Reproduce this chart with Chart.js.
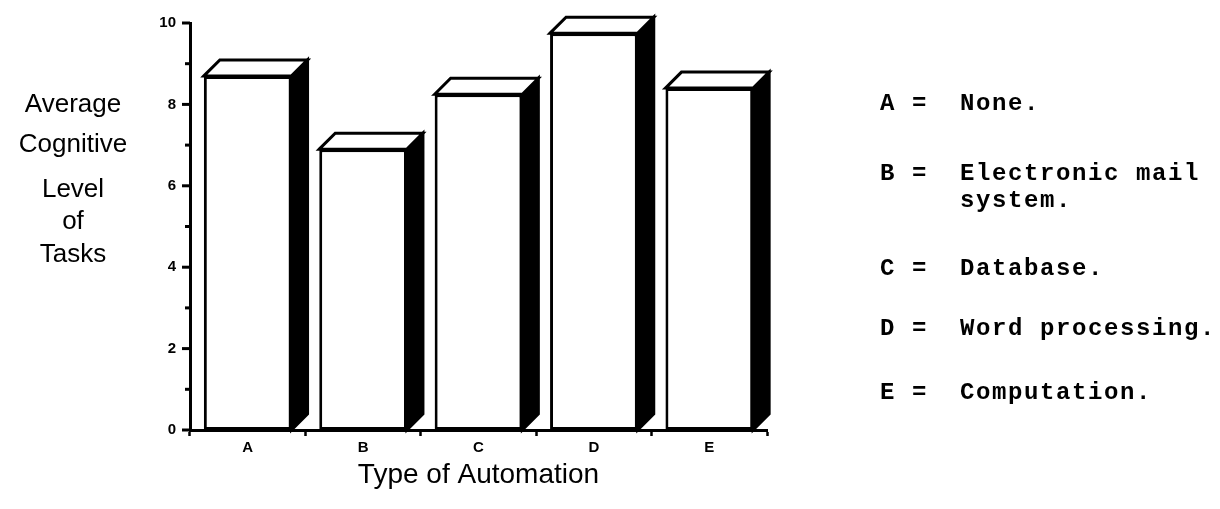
<!DOCTYPE html>
<html>
<head>
<meta charset="utf-8">
<title>Average Cognitive Level of Tasks by Type of Automation</title>
<script src="https://cdn.jsdelivr.net/npm/chart.js@4.4.1/dist/chart.umd.min.js"></script>
<style>
  html, body { margin: 0; padding: 0; background: #fff; }
  #wrap { position: relative; width: 1220px; height: 509px; overflow: hidden; }
  #chart { position: absolute; left: 0; top: 0; }
  .ytitle {
    position: absolute; left: 0; width: 146px; text-align: center;
    font: 26px "Liberation Sans", Arial, sans-serif; line-height: 26px; color: #000;
  }
  .key {
    position: absolute; left: 880px; white-space: pre;
    font: bold 24px "Liberation Mono", monospace; letter-spacing: 1.6px;
    line-height: 24px; color: #000;
  }
</style>
</head>
<body>
<div id="wrap">
  <canvas id="chart" width="1220" height="509"></canvas>
</div>
<script>
// ----- Data -----
const categories = ['A', 'B', 'C', 'D', 'E'];
const levels = [8.7, 6.9, 8.25, 9.75, 8.4];
const yLabels = [0, 2, 4, 6, 8, 10];
const yTitleLines = ['Average', 'Cognitive', 'Level', 'of', 'Tasks'];
const keyLines = ['A =  None.', 'B =  Electronic mail', '     system.', 'C =  Database.', 'D =  Word processing.', 'E =  Computation.'];

// ----- Text beside the plot (y title + key) -----
const wrap = document.getElementById('wrap');
const yTitleTops = [90, 130, 175, 207, 240];
yTitleLines.forEach(function (t, i) {
  const d = document.createElement('div');
  d.className = 'ytitle';
  d.style.top = yTitleTops[i] + 'px';
  d.textContent = t;
  wrap.appendChild(d);
});
const keyTops = [92, 162, 189, 257, 317, 381];
keyLines.forEach(function (t, i) {
  const d = document.createElement('div');
  d.className = 'key';
  d.style.top = keyTops[i] + 'px';
  d.textContent = t;
  wrap.appendChild(d);
});

// ----- 3D bar look: top face and black side -----
const DEPTH = 16;
const bars3d = {
  id: 'bars3d',
  afterDatasetsDraw(chart) {
    const ctx = chart.ctx;
    const meta = chart.getDatasetMeta(0);
    ctx.save();
    ctx.lineWidth = 3;
    ctx.lineJoin = 'miter';
    ctx.strokeStyle = '#000';
    meta.data.forEach(function (bar) {
      const p = bar.getProps(['x', 'y', 'base', 'width'], true);
      const l = p.x - p.width / 2, r = p.x + p.width / 2;
      // side
      ctx.beginPath();
      ctx.moveTo(r, p.y);
      ctx.lineTo(r + DEPTH, p.y - DEPTH);
      ctx.lineTo(r + DEPTH, p.base - DEPTH);
      ctx.lineTo(r, p.base);
      ctx.closePath();
      ctx.fillStyle = '#000';
      ctx.fill();
      ctx.stroke();
      // top
      ctx.beginPath();
      ctx.moveTo(l, p.y);
      ctx.lineTo(l + DEPTH, p.y - DEPTH);
      ctx.lineTo(r + DEPTH, p.y - DEPTH);
      ctx.lineTo(r, p.y);
      ctx.closePath();
      ctx.fillStyle = '#fff';
      ctx.fill();
      ctx.stroke();
    });
    ctx.restore();
  }
};

// ----- y tick marks: long at labelled values, short between -----
const yTickMarks = {
  id: 'yTickMarks',
  afterDraw(chart) {
    const ys = chart.scales.y;
    const ctx = chart.ctx;
    ctx.save();
    ctx.strokeStyle = '#000';
    ctx.lineWidth = 3;
    ys.ticks.forEach(function (t) {
      const py = ys.getPixelForValue(t.value);
      const len = yLabels.includes(t.value) ? 8 : 5;
      ctx.beginPath();
      ctx.moveTo(ys.right - len, py);
      ctx.lineTo(ys.right, py);
      ctx.stroke();
    });
    ctx.restore();
  }
};

Chart.defaults.font.family = '"Liberation Sans", Arial, sans-serif';
Chart.defaults.color = '#000';

new Chart(document.getElementById('chart'), {
  type: 'bar',
  data: {
    labels: categories,
    datasets: [{
      data: levels,
      backgroundColor: '#fff',
      borderColor: '#000',
      borderWidth: 3,
      borderSkipped: false,
      categoryPercentage: 1,
      barPercentage: 0.76
    }]
  },
  options: {
    responsive: false,
    animation: false,
    devicePixelRatio: 1,
    layout: { padding: { left: 0, top: 15, right: 453, bottom: 0 } },
    plugins: { legend: { display: false }, tooltip: { enabled: false } },
    scales: {
      x: {
        afterFit: function (s) { s.height = 79; },
        grid: { display: true, drawOnChartArea: false, offset: true, tickLength: 6, tickWidth: 2.5, tickColor: '#000', color: '#000' },
        border: { display: true, width: 3, color: '#000' },
        ticks: { font: { size: 15, weight: 'bold' }, padding: 3 },
        title: { display: true, text: 'Type of Automation', font: { size: 28 }, padding: { top: 0, bottom: 17 } }
      },
      y: {
        min: 0,
        max: 10,
        afterFit: function (s) { s.width = 190; },
        grid: { display: false, drawTicks: false },
        border: { display: true, width: 3, color: '#000' },
        ticks: {
          stepSize: 1,
          autoSkip: false,
          padding: 14,
          font: { size: 15, weight: 'bold' },
          callback: function (v) { return yLabels.includes(v) ? String(v) : ''; }
        }
      }
    }
  },
  plugins: [bars3d, yTickMarks]
});
</script>
</body>
</html>
